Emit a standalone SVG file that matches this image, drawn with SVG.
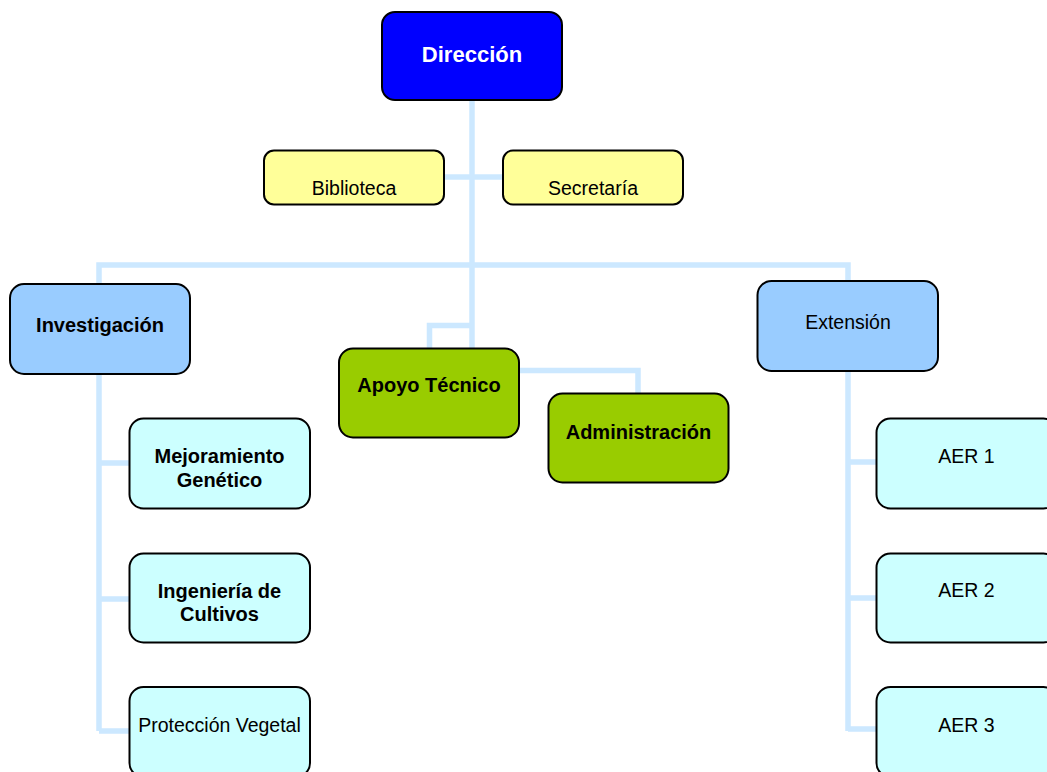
<svg xmlns="http://www.w3.org/2000/svg" width="1047" height="772" viewBox="0 0 1047 772">
<style>
.box{stroke:#000;stroke-width:2}
.c{fill:none;stroke:#CCE8FF;stroke-width:5.5;stroke-linejoin:miter;stroke-linecap:butt}
text{font-family:"Liberation Sans",Arial,sans-serif;text-anchor:middle;fill:#000}
.n{font-size:19.5px}
.b{font-size:20px;font-weight:bold}
</style>
<rect width="1047" height="772" fill="#fff"/>
<g id="connectors">
<path class="c" d="M472 100 V349"/>
<path class="c" d="M443 177 H504"/>
<path class="c" d="M99 731 V265 H848 V731"/>
<path class="c" d="M472 325.5 H429.5 V349"/>
<path class="c" d="M518 370.5 H638 V394"/>
<path class="c" d="M99 463 H130 M99 599 H130 M99 731 H130"/>
<path class="c" d="M848 462 H877 M848 598 H877 M848 729 H877"/>
</g>
<g id="direccion">
<rect class="box" x="382" y="12" width="180" height="88" rx="13" fill="#0000FF"/>
<text x="472" y="61.5" style="font-size:22px;font-weight:bold;fill:#fff">Dirección</text>
</g>
<g id="biblioteca">
<rect class="box" x="264" y="150.5" width="180" height="54" rx="10" fill="#FFFF99"/>
<text class="n" x="354" y="195">Biblioteca</text>
</g>
<g id="secretaria">
<rect class="box" x="503" y="150.5" width="180" height="54" rx="10" fill="#FFFF99"/>
<text class="n" x="593" y="195">Secretaría</text>
</g>
<g id="investigacion">
<rect class="box" x="10" y="284" width="180" height="90" rx="14" fill="#99CCFF"/>
<text class="b" x="100" y="332">Investigación</text>
</g>
<g id="extension">
<rect class="box" x="757.5" y="281" width="180.5" height="90" rx="14" fill="#99CCFF"/>
<text class="n" x="848" y="328.5">Extensión</text>
</g>
<g id="apoyo-tecnico">
<rect class="box" x="339" y="348.5" width="180" height="89" rx="14" fill="#99CC00"/>
<text class="b" x="429" y="392">Apoyo Técnico</text>
</g>
<g id="administracion">
<rect class="box" x="548.5" y="393.5" width="180" height="89" rx="14" fill="#99CC00"/>
<text class="b" x="638.5" y="438.5">Administración</text>
</g>
<g id="mejoramiento">
<rect class="box" x="129.5" y="418.5" width="180.5" height="90" rx="14" fill="#CCFFFF"/>
<text class="b" x="219.5" y="463">Mejoramiento</text>
<text class="b" x="219.5" y="486.5">Genético</text>
</g>
<g id="ingenieria">
<rect class="box" x="129.5" y="553.5" width="180.5" height="89" rx="14" fill="#CCFFFF"/>
<text class="b" x="219.5" y="598">Ingeniería de</text>
<text class="b" x="219.5" y="620.5">Cultivos</text>
</g>
<g id="proteccion">
<rect class="box" x="129.5" y="687" width="180.5" height="90" rx="14" fill="#CCFFFF"/>
<text class="n" x="219.5" y="731.5">Protección Vegetal</text>
</g>
<g id="aer1">
<rect class="box" x="876.5" y="418.5" width="181" height="90" rx="14" fill="#CCFFFF"/>
<text class="n" x="966.5" y="463">AER 1</text>
</g>
<g id="aer2">
<rect class="box" x="876.5" y="553.5" width="181" height="89" rx="14" fill="#CCFFFF"/>
<text class="n" x="966.5" y="596.5">AER 2</text>
</g>
<g id="aer3">
<rect class="box" x="876.5" y="687" width="181" height="90" rx="14" fill="#CCFFFF"/>
<text class="n" x="966.5" y="731.5">AER 3</text>
</g>
</svg>
